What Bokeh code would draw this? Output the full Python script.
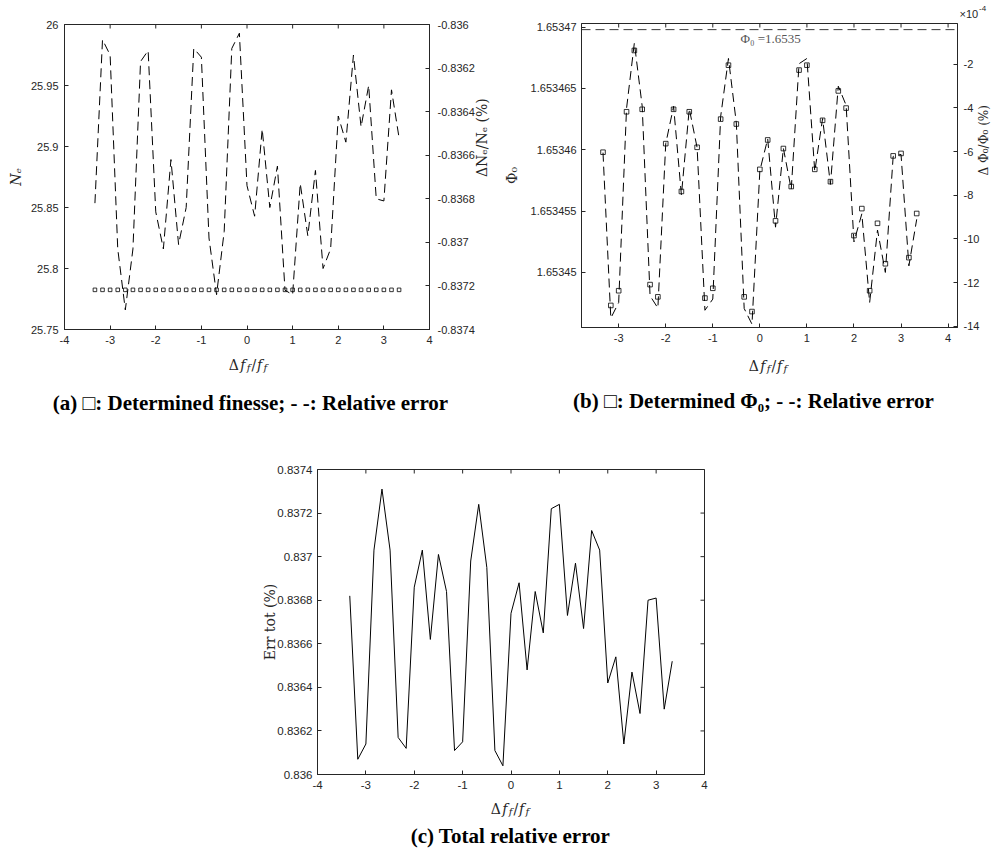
import math
from bokeh.plotting import figure
from bokeh.models import Range1d, LinearAxis, FixedTicker, CustomJSTickFormatter, Label, Span, Spacer
from bokeh.layouts import column, row
from bokeh.embed import file_html
from bokeh.resources import INLINE
from bokeh.core.properties import value

# ---------------- data ----------------
x_ratio = [-3.333, -3.167, -3.0, -2.833, -2.667, -2.5, -2.333, -2.167, -2.0, -1.833,
           -1.667, -1.5, -1.333, -1.167, -1.0, -0.833, -0.667, -0.5, -0.333, -0.167,
           0.0, 0.167, 0.333, 0.5, 0.667, 0.833, 1.0, 1.167, 1.333, 1.5,
           1.667, 1.833, 2.0, 2.167, 2.333, 2.5, 2.667, 2.833, 3.0, 3.167, 3.333]

# (a) determined finesse N_e (left axis) and its relative error in % (right axis)
ne_determined = [25.7825, 25.7825, 25.7825, 25.7825, 25.7825, 25.7825, 25.7825, 25.7825, 25.7825, 25.7825,
                 25.7825, 25.7825, 25.7825, 25.7825, 25.7825, 25.7825, 25.7825, 25.7825, 25.7825, 25.7825,
                 25.7825, 25.7825, 25.7825, 25.7825, 25.7825, 25.7825, 25.7825, 25.7825, 25.7825, 25.7825,
                 25.7825, 25.7825, 25.7825, 25.7825, 25.7825, 25.7825, 25.7825, 25.7825, 25.7825, 25.7825, 25.7825]
ne_rel_err = [-0.83682, -0.83607, -0.83614, -0.83703, -0.83731, -0.83703, -0.83617, -0.83612, -0.83686, -0.83703,
              -0.83662, -0.83701, -0.83684, -0.83611, -0.83615, -0.83698, -0.83724, -0.83695, -0.83611, -0.83604,
              -0.83674, -0.83688, -0.83648, -0.83684, -0.83665, -0.83722, -0.83724, -0.83673, -0.83697, -0.83667,
              -0.83712, -0.83703, -0.83642, -0.83654, -0.83614, -0.83647, -0.83628, -0.83680, -0.83681, -0.83630, -0.83652]

# (b) determined Phi_0 (left axis) and its relative error in 1e-4 % (right axis)
phi0_determined = [1.6534598, 1.6534473, 1.6534485, 1.6534631, 1.6534681, 1.6534633, 1.6534490, 1.6534480, 1.6534605, 1.6534633,
                   1.6534566, 1.6534631, 1.6534602, 1.6534479, 1.6534487, 1.6534625, 1.6534669, 1.6534621, 1.6534480, 1.6534468,
                   1.6534584, 1.6534608, 1.6534542, 1.6534601, 1.6534570, 1.6534665, 1.6534669, 1.6534584, 1.6534624, 1.6534574,
                   1.6534648, 1.6534634, 1.6534530, 1.6534552, 1.6534485, 1.6534540, 1.6534507, 1.6534595, 1.6534597, 1.6534512, 1.6534548]
phi0_rel_err = [-6.05, -13.62, -12.91, -4.03, -1.03, -3.93, -12.60, -13.16, -5.64, -3.93,
                -7.99, -4.04, -5.82, -13.26, -12.75, -4.40, -1.74, -4.69, -13.18, -13.90,
                -6.87, -5.42, -9.46, -5.85, -7.73, -1.98, -1.74, -6.91, -4.49, -7.50,
                -3.01, -3.88, -10.13, -8.85, -12.91, -9.59, -11.53, -6.22, -6.13, -11.23, -9.10]
phi0_reference = 1.6534698
phi0_reference_text = "Φ₀ =1.6535"

# (c) total relative error in %
err_tot = [0.83682, 0.83607, 0.83614, 0.83703, 0.83731, 0.83703, 0.83617, 0.83612, 0.83686, 0.83703,
           0.83662, 0.83701, 0.83684, 0.83611, 0.83615, 0.83698, 0.83724, 0.83695, 0.83611, 0.83604,
           0.83674, 0.83688, 0.83648, 0.83684, 0.83665, 0.83722, 0.83724, 0.83673, 0.83697, 0.83667,
           0.83712, 0.83703, 0.83642, 0.83654, 0.83614, 0.83647, 0.83628, 0.83680, 0.83681, 0.83630, 0.83652]

# tick positions
xticks_ac = [-4, -3, -2, -1, 0, 1, 2, 3, 4]
xticks_b = [-3, -2, -1, 0, 1, 2, 3, 4]
yticks_a_left = [25.75, 25.8, 25.85, 25.9, 25.95, 26.0]
yticks_a_right = [-0.8374, -0.8372, -0.837, -0.8368, -0.8366, -0.8364, -0.8362, -0.836]
yticks_b_left = [1.65345, 1.653455, 1.65346, 1.653465, 1.65347]
yticks_b_right = [-14, -12, -10, -8, -6, -4, -2]
yticks_c = [0.836, 0.8362, 0.8364, 0.8366, 0.8368, 0.837, 0.8372, 0.8374]

captions = ["(a) □: Determined finesse; - -: Relative error",
            "(b) □: Determined Φ₀; - -: Relative error",
            "(c) Total relative error"]

# ---------------- styling helpers ----------------
INK = "#262626"
SANS = "Liberation Sans"
SERIF = "DejaVu Serif"
CAP_FONT = "Liberation Serif"
FMT = "return String(Number(tick.toPrecision(7)));"

W_UP = {"Δ": 0.77, "Φ": 0.80, "/": 0.34, "(": 0.39, ")": 0.39, "%": 0.95, " ": 0.32,
        "0": 0.64, "E": 0.73, "r": 0.48, "t": 0.40, "o": 0.60}
W_IT = {"N": 0.80, "e": 0.59, "f": 0.40}


def text_w(s, size, italic):
    t = W_IT if italic else W_UP
    return sum(t.get(c, 0.6) for c in s) * size


def style_axis(ax, ticks, standoff=6, size="11px"):
    ax.ticker = FixedTicker(ticks=ticks)
    ax.formatter = CustomJSTickFormatter(code=FMT)
    ax.axis_line_color = INK
    ax.axis_line_width = 1
    ax.major_tick_line_color = INK
    ax.major_tick_in = 4
    ax.major_tick_out = 0
    ax.minor_tick_line_color = None
    ax.major_label_text_font = SANS
    ax.major_label_text_color = INK
    ax.major_label_text_font_size = size
    ax.major_label_standoff = standoff


def set_label(ax, text, style="normal", standoff=4, size="14px", orient=None):
    ax.axis_label = text
    ax.axis_label_text_font = SERIF
    ax.axis_label_text_font_size = size
    ax.axis_label_text_font_style = style
    ax.axis_label_text_color = INK
    ax.axis_label_standoff = standoff
    if orient is not None and "axis_label_orientation" in ax.properties():
        ax.axis_label_orientation = orient


def make_fig(w, h, xr, yr, left, right, top, bottom):
    p = figure(width=w, height=h, x_range=Range1d(*xr), y_range=Range1d(*yr),
               output_backend="svg", toolbar_location=None, frame_align=False,
               min_border_left=left, min_border_right=right,
               min_border_top=top, min_border_bottom=bottom)
    p.xgrid.grid_line_color = None
    p.ygrid.grid_line_color = None
    p.outline_line_color = INK
    p.background_fill_color = "white"
    p.border_fill_color = "white"
    return p


def mirror_ticks(p, xticks=None, y_top=None, yticks=None, x_right=None):
    # inward box ticks on the top / right edges (outer half is clipped by the frame)
    if xticks is not None:
        p.scatter(xticks, [y_top] * len(xticks), marker="dash", angle=math.pi / 2, size=8,
                  line_color=INK, line_width=1)
    if yticks is not None:
        p.scatter([x_right] * len(yticks), yticks, marker="dash", size=8,
                  line_color=INK, line_width=1)


def strip_fig(w, h):
    s = figure(width=w, height=h, x_range=Range1d(0, w), y_range=Range1d(0, h),
               output_backend="svg", toolbar_location=None, x_axis_type=None, y_axis_type=None,
               frame_align=False,
               min_border_left=0, min_border_right=0, min_border_top=0, min_border_bottom=0)
    s.grid.visible = False
    s.outline_line_color = None
    s.background_fill_color = "white"
    s.border_fill_color = "white"
    return s


def stext(s, lx, ly, text, font, size, style="normal", color=INK, angle=0.0,
          align="center", baseline="middle"):
    s.text(x=[lx], y=[s.height - ly], text=[text], text_font=value(font),
           text_font_size=value(f"{size}px"), text_font_style=value(style),
           text_color=color, angle=angle, text_align=value(align),
           text_baseline=value(baseline))


def compose(s, cx, cy, pieces, gap=0.0):
    widths = [text_w(t, sz, it) + gap for t, sz, it, sh in pieces]
    total = sum(widths)
    main = max(sz for _, sz, _, _ in pieces)
    adv = -total / 2
    for (t, sz, it, sh), w in zip(pieces, widths):
        style = "italic" if it else "normal"
        stext(s, cx + adv, cy + 0.36 * main + sh, t, SERIF, sz, style,
              align="left", baseline="alphabetic")
        adv += w


XLAB = [("Δ", 14, False, 0), ("f", 14, True, 0), ("f", 10, True, 3),
        ("/", 14, False, 0), ("f", 14, True, 0), ("f", 10, True, 3)]

# ---------------- panel (a) ----------------
pa = make_fig(500, 350, (-4, 4), (25.75, 26.0), 64, 69, 24, 21)
pa.extra_y_ranges = {"err": Range1d(-0.8374, -0.836)}
pa.add_layout(LinearAxis(y_range_name="err"), "right")
style_axis(pa.below[0], xticks_ac, standoff=6)
style_axis(pa.left[0], yticks_a_left, standoff=6)
style_axis(pa.right[0], yticks_a_right, standoff=8)
set_label(pa.left[0], "Nₑ", style="italic", standoff=4)
set_label(pa.right[0], "ΔNₑ/Nₑ (%)", standoff=4, orient=math.pi / 2)
mirror_ticks(pa, xticks=xticks_ac, y_top=26.0)
pa.scatter(x_ratio, ne_determined, marker="square", size=3.6, fill_color=None,
           line_color="black", line_width=0.8)
pa.line(x_ratio, ne_rel_err, y_range_name="err", line_color="black", line_width=1,
        line_dash="9 5")

sba = strip_fig(500, 90)
compose(sba, 248, 9, XLAB, gap=0.8)
stext(sba, 250, 52, captions[0], CAP_FONT, 21, "bold", "black")

# ---------------- panel (b) ----------------
stb = strip_fig(501, 20)
stext(stb, 459, 13, "×10", SANS, 11, align="left")
stext(stb, 478.5, 8, "-4", SANS, 8, align="left")

pb = make_fig(501, 330, (-3.79, 4.2), (1.6534455, 1.6534703), 79, 44, 3, 23)
pb.extra_y_ranges = {"err": Range1d(-14.05, -0.14)}
pb.add_layout(LinearAxis(y_range_name="err"), "right")
style_axis(pb.below[0], xticks_b, standoff=6)
style_axis(pb.left[0], yticks_b_left, standoff=5)
style_axis(pb.right[0], yticks_b_right, standoff=6)
set_label(pb.left[0], "Φ₀", standoff=8)
set_label(pb.right[0], "Δ Φ₀/Φ₀ (%)", standoff=2, size="12px", orient=math.pi / 2)
mirror_ticks(pb, xticks=xticks_b, y_top=1.6534703)
pb.add_layout(Span(location=phi0_reference, dimension="width", line_color="#3a3a3a",
                   line_width=1, line_dash="9 5"))
pb.line(x_ratio, phi0_rel_err, y_range_name="err", line_color="black", line_width=1,
        line_dash="9 5")
pb.scatter(x_ratio, phi0_determined, marker="square", size=4.6, fill_color=None,
           line_color="black", line_width=0.8)
pb.add_layout(Label(x=0.23, y=1.6534691, text=phi0_reference_text, text_font="Liberation Serif",
                    text_font_size="13px", text_color="#555555", text_align="center",
                    text_baseline="middle"))

sbb = strip_fig(501, 90)
compose(sbb, 268, 10, XLAB, gap=0.8)
stext(sbb, 253, 50, captions[1], CAP_FONT, 21, "bold", "black")

# ---------------- panel (c) ----------------
pc = make_fig(1001, 354, (-4, 4), (0.836, 0.8374), 317, 297, 29, 20)
style_axis(pc.below[0], xticks_ac, standoff=6, size="11.5px")
style_axis(pc.left[0], yticks_c, standoff=5, size="11.5px")
set_label(pc.left[0], "Err tot (%)", standoff=-4)
mirror_ticks(pc, xticks=xticks_ac, y_top=0.8374, yticks=yticks_c, x_right=4)
pc.line(x_ratio, err_tot, line_color="black", line_width=1)

sbc = strip_fig(500, 66)
compose(sbc, 250, 9, XLAB, gap=0.8)
stext(sbc, 250, 41, captions[2], CAP_FONT, 21, "bold", "black")

layout = column(
    row(column(pa, sba), column(stb, pb, sbb)),
    column(pc, row(Spacer(width=260, height=66), sbc, Spacer(width=241, height=66))),
)
open("out.html", "w").write(file_html(layout, INLINE))
